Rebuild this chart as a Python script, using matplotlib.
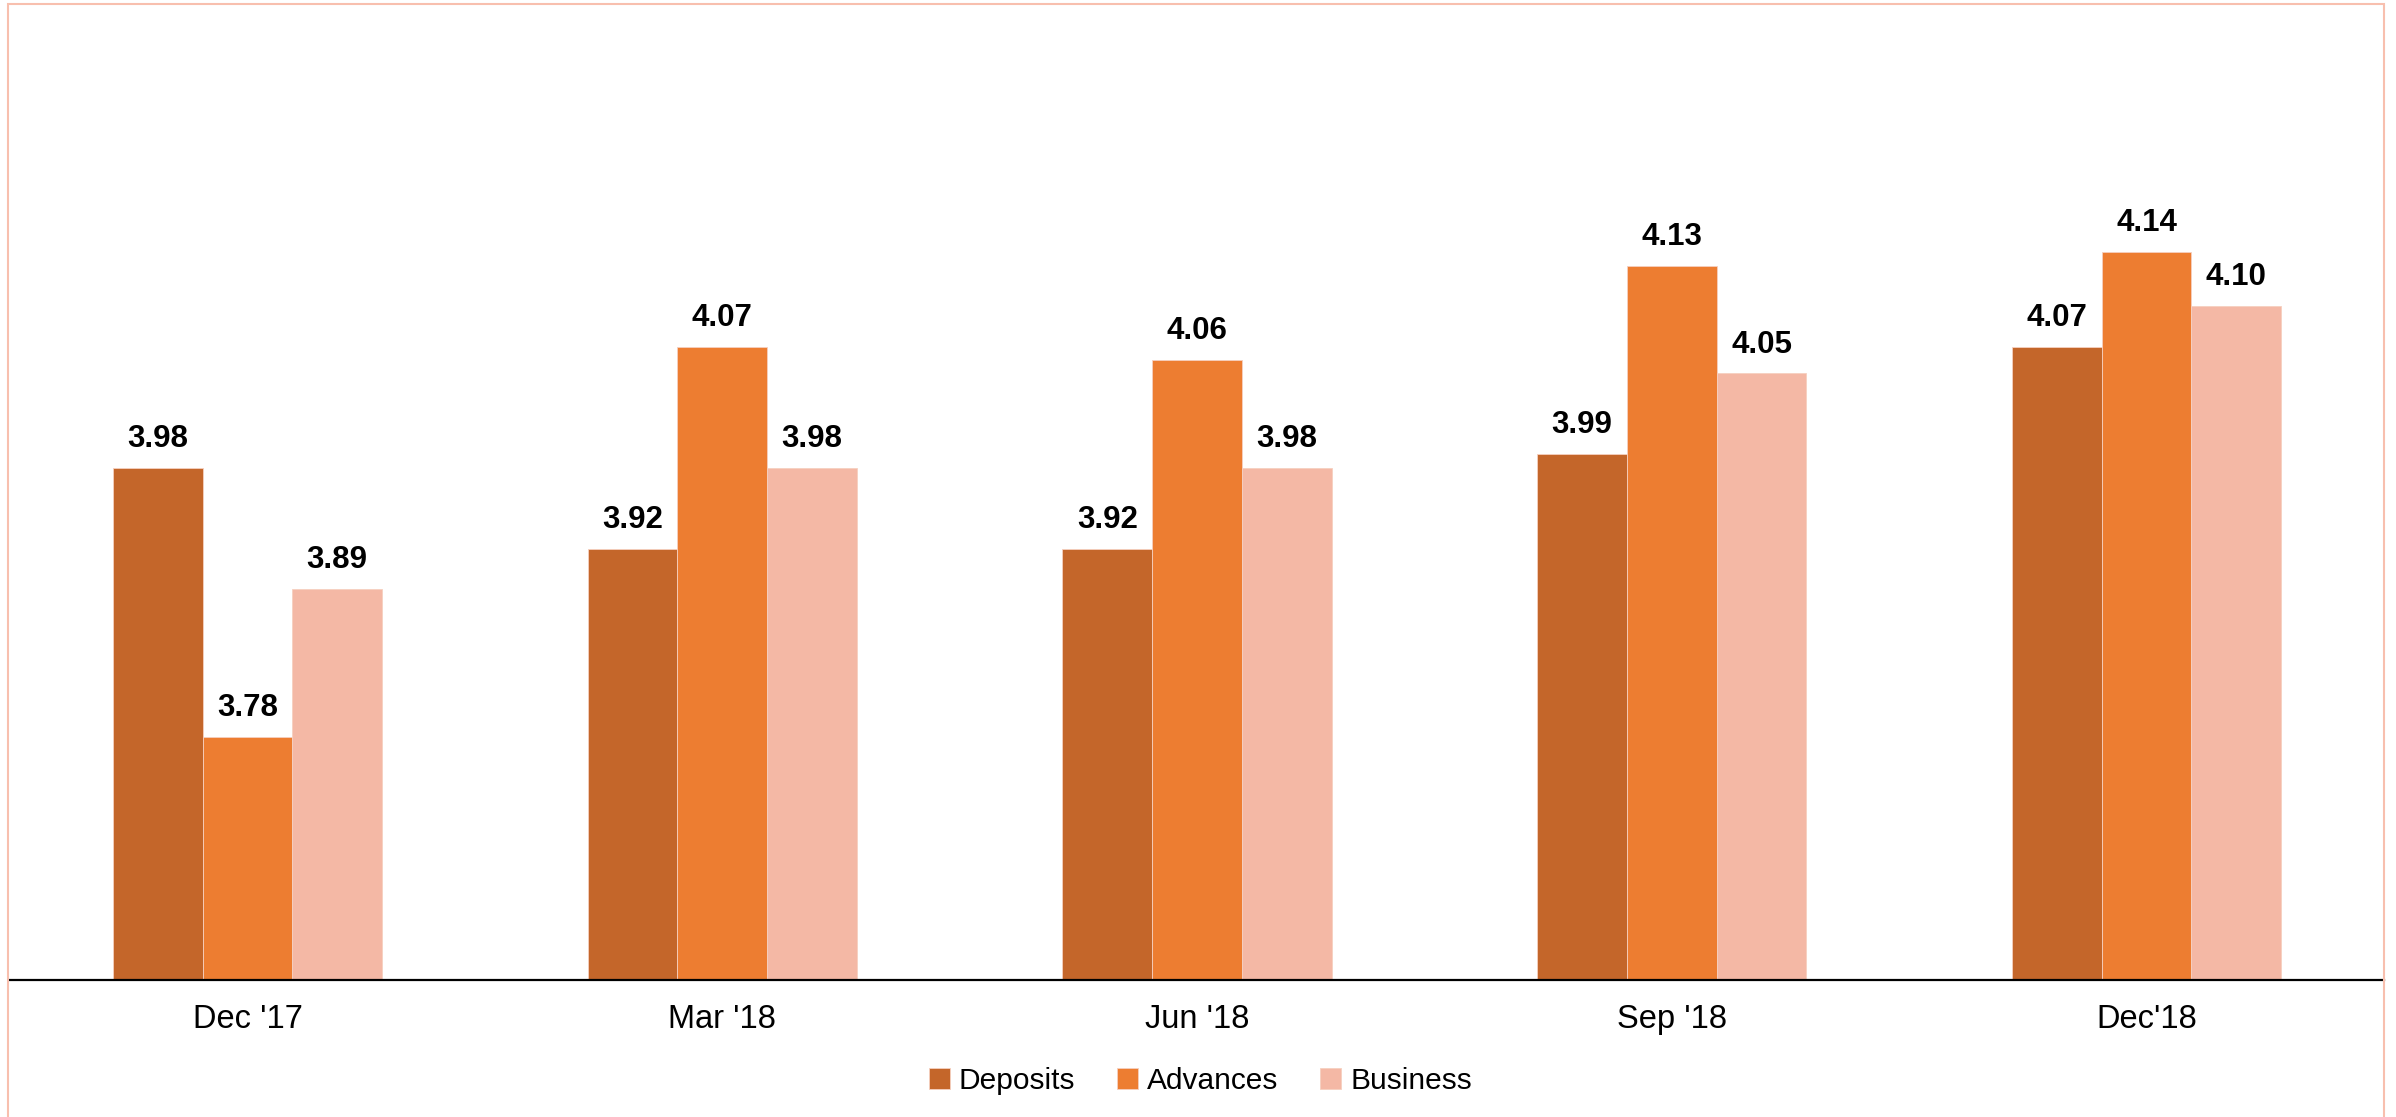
import numpy as np
import matplotlib.pyplot as plt
from matplotlib.patches import Rectangle

plt.rcParams['font.family'] = ['Liberation Sans', 'DejaVu Sans']

quarters = ["Dec '17", "Mar '18", "Jun '18", "Sep '18", "Dec'18"]
deposits = [3.98, 3.92, 3.92, 3.99, 4.07]
advances = [3.78, 4.07, 4.06, 4.13, 4.14]
business = [3.89, 3.98, 3.98, 4.05, 4.10]

series = [("Deposits", deposits, "#C4662A"),
          ("Advances", advances, "#ED7D31"),
          ("Business", business, "#F4B8A5")]

fig = plt.figure(figsize=(23.96, 11.17), dpi=100)
ax = fig.add_axes([0.0042, 0.1227, 0.9908, 0.8325])

x = np.arange(len(quarters))
w = 0.189
base = 3.6
for i, (name, vals, col) in enumerate(series):
    vals = np.array(vals)
    pos = x + (i - 1) * w
    ax.bar(pos, vals - base, w, bottom=base, color=col, label=name,
           edgecolor='#F6D0C0', linewidth=0.6)
    for px, v in zip(pos, vals):
        ax.annotate('%.2f' % v, (px, v), xytext=(0, 10), textcoords='offset points',
                    ha='center', va='bottom', fontsize=22.5, fontweight='bold')

ax.set_xlim(-0.5, len(quarters) - 0.5)
ax.set_ylim(base, 4.29)
ax.set_xticks(x)
ax.set_xticklabels(quarters, fontsize=23.5)
ax.tick_params(axis='x', length=0, pad=17)
ax.set_yticks([])
for s in ['top', 'left', 'right']:
    ax.spines[s].set_visible(False)
ax.spines['bottom'].set_linewidth(1.6)
ax.spines['bottom'].set_color('black')

fig.legend(loc='center', bbox_to_anchor=(0.501, 0.032), ncol=3, frameon=False,
           fontsize=21.5, handlelength=0.7, handleheight=0.7, handletextpad=0.3,
           columnspacing=1.4)

# outer frame
fig.add_artist(Rectangle((8 / 2396, -0.01), (2384 - 8) / 2396, 1 - 4 / 1117 + 0.01,
                         transform=fig.transFigure, fill=False,
                         edgecolor='#F8BFAE', linewidth=1.5))

fig.savefig('out.png', dpi=100)
